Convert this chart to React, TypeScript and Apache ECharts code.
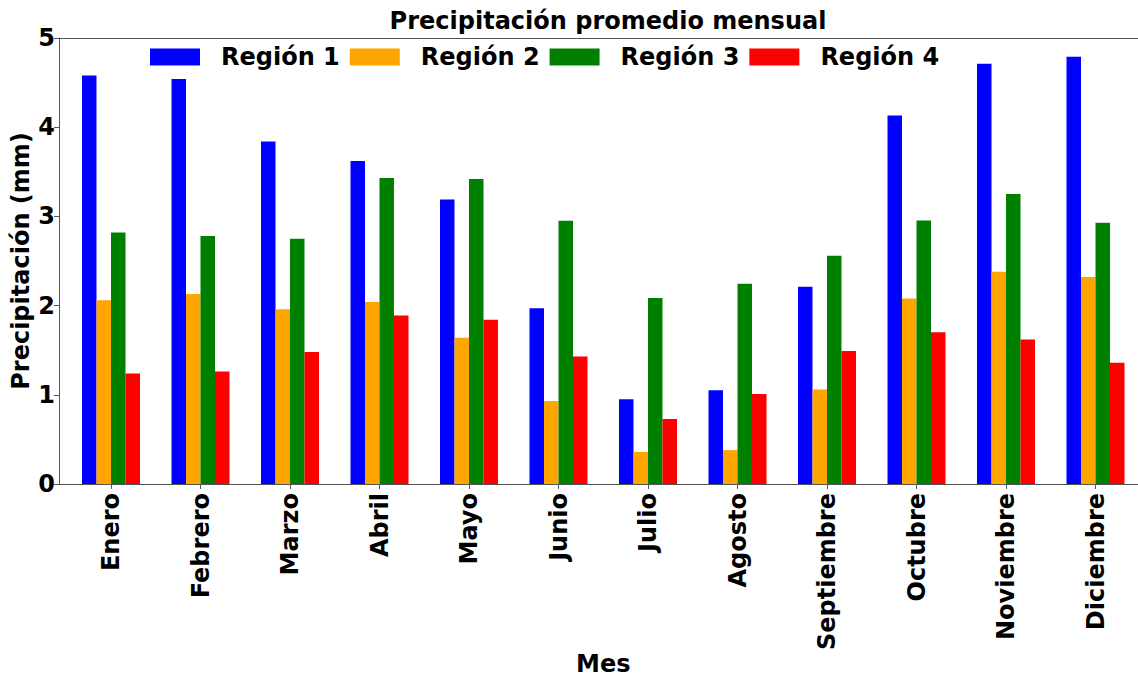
import React, { useEffect, useRef } from "react";
import * as echarts from "echarts";

const months = [
  "Enero", "Febrero", "Marzo", "Abril", "Mayo", "Junio",
  "Julio", "Agosto", "Septiembre", "Octubre", "Noviembre", "Diciembre",
];
const seriesNames = ["Región 1", "Región 2", "Región 3", "Región 4"];
const region1 = [4.58, 4.54, 3.84, 3.62, 3.19, 1.97, 0.95, 1.05, 2.21, 4.13, 4.71, 4.79];
const region2 = [2.06, 2.13, 1.96, 2.04, 1.64, 0.93, 0.36, 0.38, 1.06, 2.08, 2.38, 2.32];
const region3 = [2.82, 2.78, 2.75, 3.43, 3.42, 2.95, 2.085, 2.245, 2.56, 2.955, 3.25, 2.93];
const region4 = [1.24, 1.26, 1.48, 1.89, 1.84, 1.43, 0.73, 1.01, 1.49, 1.7, 1.62, 1.36];
const colors = ["#0000ff", "#ffa500", "#008000", "#ff0000"];
const yTicks = { min: 0, max: 5, interval: 1 };

const FONT = "DejaVu Sans";

export default function App() {
  const ref = useRef<HTMLDivElement>(null);
  useEffect(() => {
    if (!ref.current) return;
    const chart = echarts.init(ref.current, undefined, { renderer: "svg" });
    const values = [region1, region2, region3, region4];
    const axisColor = "#555";
    const bigText = { fontFamily: FONT, fontSize: 24, fontWeight: "bold" as const, color: "#000" };
    chart.setOption({
      animation: false,
      backgroundColor: "#fff",
      title: {
        text: "Precipitación promedio mensual",
        left: 603,
        top: 4,
        textAlign: "center",
        textStyle: bigText,
      },
      legend: {
        data: seriesNames,
        left: 150,
        top: 45,
        padding: 0,
        itemWidth: 50,
        itemHeight: 17,
        itemGap: 10,
        icon: "rect",
        textStyle: { ...bigText, padding: [0, 0, 0, 16] },
      },
      grid: [
        { left: 66.25, top: 38, width: 1074, height: 446, containLabel: false, outerBoundsMode: "none" },
        { left: 59, top: 38, width: 1088, height: 446, containLabel: false, outerBoundsMode: "none" },
      ],
      xAxis: [
        {
          type: "category",
          gridIndex: 0,
          data: months,
          boundaryGap: true,
          axisLine: { show: false },
          axisTick: { show: true, alignWithLabel: true, length: 5, lineStyle: { color: axisColor } },
          axisLabel: { ...bigText, rotate: 90, margin: 9, interval: 0 },
          name: "Mes",
          nameLocation: "middle",
          nameGap: 168,
          nameMoveOverlap: false,
          nameTextStyle: { ...bigText, lineHeight: 24 },
        },
        {
          type: "value",
          gridIndex: 1,
          min: 0,
          max: 1,
          position: "bottom",
          axisLine: { show: true, lineStyle: { color: axisColor, width: 1 } },
          axisTick: { show: false },
          axisLabel: { show: false },
          splitLine: { show: false },
        },
        {
          type: "value",
          gridIndex: 1,
          min: 0,
          max: 1,
          position: "top",
          axisLine: { show: true, lineStyle: { color: axisColor, width: 1 } },
          axisTick: { show: false },
          axisLabel: { show: false },
          splitLine: { show: false },
        },
      ],
      yAxis: [
        {
          type: "value",
          gridIndex: 0,
          min: yTicks.min,
          max: yTicks.max,
          show: false,
          splitLine: { show: false },
        },
        {
          type: "value",
          gridIndex: 1,
          min: yTicks.min,
          max: yTicks.max,
          interval: yTicks.interval,
          axisLine: { show: true, lineStyle: { color: axisColor, width: 1 } },
          axisTick: { show: true, length: 5, lineStyle: { color: axisColor } },
          axisLabel: { ...bigText, margin: 4 },
          splitLine: { show: false },
          name: "Precipitación (mm)",
          nameLocation: "middle",
          nameGap: 26,
          nameMoveOverlap: false,
          nameTextStyle: bigText,
        },
      ],
      series: seriesNames.map((name, i) => ({
        name,
        type: "bar",
        xAxisIndex: 0,
        yAxisIndex: 0,
        data: values[i],
        barWidth: 14.5,
        barGap: "0%",
        itemStyle: { color: colors[i] },
      })),
    });
    return () => chart.dispose();
  }, []);
  return (
    <div
      ref={ref}
      style={{ position: "fixed", left: 0, top: 0, width: 1138, height: 677, background: "#fff" }}
    />
  );
}
